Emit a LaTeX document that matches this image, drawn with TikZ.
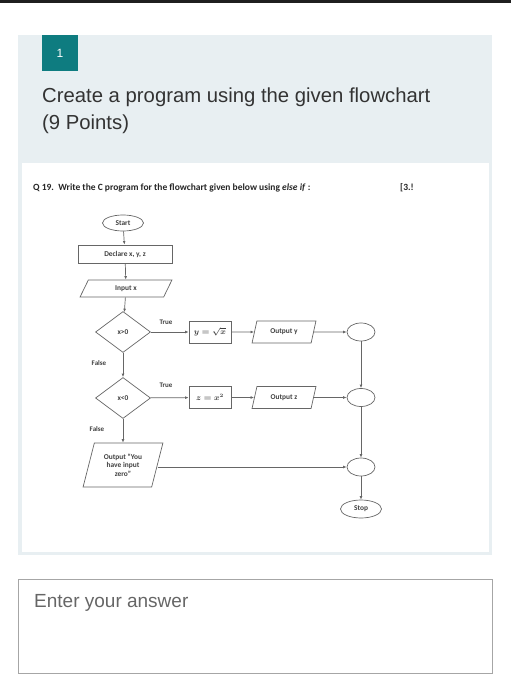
\documentclass[tikz,border=0pt]{standalone}
\usepackage{fontspec}
\setmainfont{Liberation Sans}
\newfontfamily\chartfont{Carlito}
\usetikzlibrary{shapes.geometric,arrows.meta}

\definecolor{panelbg}{HTML}{E8EFF2}
\definecolor{teal}{HTML}{0E7C80}
\definecolor{inkgrey}{HTML}{404040}
\definecolor{linegrey}{HTML}{666666}

\begin{document}
\begin{tikzpicture}[x=1pt,y=-1pt,
    title/.style={inner sep=0,font=\fontsize{20.3}{23}\selectfont,text=black!80},
    qtext/.style={inner sep=0,font=\chartfont\bfseries\fontsize{9.5}{11}\selectfont,text=black!85},
    chart/.style={draw=linegrey,line width=0.7pt,font=\chartfont\bfseries\fontsize{7.4}{8.4}\selectfont,text=inkgrey,inner sep=1pt},
    term/.style={chart,ellipse,minimum width=41,minimum height=16},
    joint/.style={chart,ellipse,minimum width=28,minimum height=18},
    proc/.style={chart,rectangle,minimum width=42,minimum height=22},
    formula/.style={proc,font=\fontsize{7.6}{8.6}\selectfont\boldmath},
    io/.style={chart,trapezium,trapezium left angle=72,trapezium right angle=108,trapezium stretches=true},
    decision/.style={chart,diamond,minimum width=55,minimum height=41,inner sep=0},
    flow/.style={draw=linegrey,line width=0.7pt,-{Latex[length=3.5pt,width=2.8pt]}},
    tag/.style={inner sep=0,font=\chartfont\bfseries\fontsize{7}{8}\selectfont,text=inkgrey}]

  \useasboundingbox (0,0) rectangle (511,700);

  % Page frame
  \fill[black!88] (0,0) rectangle (511,3);
  \fill[panelbg] (18,35) rectangle (492,555);
  \fill[white] (22,163) rectangle (489,552);

  % Question header
  \node[fill=teal,text=white,minimum size=36,inner sep=0,font=\fontsize{12}{14}\selectfont] (qnum) at (60,53) {1};
  \node[title,anchor=base west] (qtitle) at (42,103) {Create a program using the given flowchart};
  \node[title,anchor=base west] (qpoints) at (42,130) {(9 Points)};

  \node[qtext,anchor=base west] (qline) at (33,191) {Q 19.\ \ Write the C program for the flowchart given below using \textit{else if} :};
  \node[qtext,anchor=base west] (qmarks) at (400,191) {[3.!};

  % Flowchart
  \node[term] (start) at (123,223) {Start};
  \node[proc,minimum width=94,minimum height=18] (decl) at (125,254) {Declare x, y, z};
  \node[io,minimum width=92,minimum height=17] (inp) at (126,288.5) {Input x};
  \node[decision] (pos) at (123,332) {x>0};
  \node[decision] (neg) at (123,398) {x<0};
  \node[io,minimum width=80,minimum height=44,align=center] (zero) at (123,465) {Output “You\\have input\\zero”};

  \node[formula] (ysqrt) at (210,332) {$y=\sqrt{x}$};
  \node[formula] (zsq) at (210,397.5) {$z=x^2$};
  \node[io,minimum width=64,minimum height=22] (outy) at (284,332) {Output y};
  \node[io,minimum width=64,minimum height=22] (outz) at (284,397.5) {Output z};

  \node[joint] (j1) at (361,332) {};
  \node[joint] (j2) at (361,397.5) {};
  \node[joint] (j3) at (361,467) {};
  \node[term,minimum height=18] (stop) at (361,509) {Stop};

  \draw[flow] (start) -- (decl);
  \draw[flow] (decl) -- (inp);
  \draw[flow] (inp) -- (pos);
  \draw[flow] (pos) -- (neg);
  \draw[flow] (neg) -- (zero);

  \draw[flow] (pos) -- (ysqrt);
  \draw[flow] (ysqrt) -- (outy);
  \draw[flow] (outy) -- (j1);
  \draw[flow] (neg) -- (zsq);
  \draw[flow] (zsq) -- (outz);
  \draw[flow] (outz) -- (j2);
  \draw[flow] (zero.east |- j3) -- (j3);

  \draw[flow] (j1) -- (j2);
  \draw[flow] (j2) -- (j3);
  \draw[flow] (j3) -- (stop);

  \node[tag] (t1) at (166,322) {True};
  \node[tag] (t2) at (166,385) {True};
  \node[tag] (f1) at (99,363) {False};
  \node[tag] (f2) at (97,429) {False};

  % Answer field
  \node[draw=black!35,line width=0.6pt,minimum width=474,minimum height=94,inner sep=0] (answer) at (255,626) {};
  \node[anchor=base west,inner sep=0,text=black!60,font=\fontsize{19}{22}\selectfont] (hint) at (34,607) {Enter your answer};

\end{tikzpicture}
\end{document}
